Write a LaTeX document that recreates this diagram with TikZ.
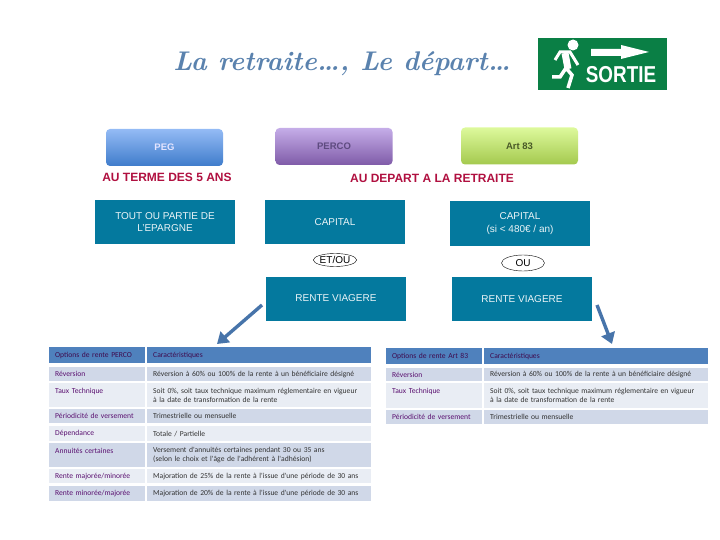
\documentclass[tikz,border=0pt]{standalone}
\usepackage{fontspec}
\setmainfont{Liberation Sans}
\newfontfamily\cellfont{Carlito}
\newfontfamily\titlefont{Latin Modern Roman}
\usetikzlibrary{arrows.meta,shapes.geometric}

\definecolor{tealbox}{HTML}{04799E}
\definecolor{crimson}{HTML}{B01040}
\definecolor{headblue}{HTML}{4F81BD}
\definecolor{rowdark}{HTML}{D0D8E8}
\definecolor{rowlight}{HTML}{E9EDF4}
\definecolor{cellpurple}{HTML}{5A1070}
\definecolor{signgreen}{HTML}{0A7F45}
\definecolor{titleblue}{HTML}{5A82AE}
\definecolor{pegtop}{HTML}{94BBF5}
\definecolor{pegbottom}{HTML}{3F7CCB}
\definecolor{percotop}{HTML}{C5ADE8}
\definecolor{percobottom}{HTML}{7F5BA8}
\definecolor{percotext}{HTML}{5E4B80}
\definecolor{arttop}{HTML}{DDF99C}
\definecolor{artbottom}{HTML}{A4C94E}
\definecolor{arttext}{HTML}{4A5A28}

\tikzset{
  topbox/.style={rounded corners=4pt, minimum width=117pt, minimum height=37pt, font=\bfseries\fontsize{9.5}{12}\selectfont},
  tealnode/.style={fill=tealbox, text=white!92!tealbox, minimum width=140pt, minimum height=44pt, align=center, inner sep=0pt, font=\fontsize{10}{12.5}\selectfont},
  headline/.style={text=crimson, font=\bfseries\fontsize{12}{14}\selectfont},
  choice/.style={draw, ellipse, minimum width=43pt, inner sep=0pt, font=\fontsize{10}{10}\selectfont},
  cell/.style={anchor=north west, inner xsep=6pt, inner ysep=0pt, align=left, font=\cellfont\fontsize{7.6}{9.3}\selectfont},
  narrowcell/.style={cell, minimum width=95pt, text width=84pt, text=cellpurple},
  widecell/.style={cell, minimum width=223pt, text width=212pt, text=black!80},
  headcell/.style={fill=headblue, text=cellpurple!70!black},
  darkrow/.style={fill=rowdark},
  lightrow/.style={fill=rowlight},
  bigarrow/.style={-{Triangle[length=11pt,width=14pt]}, line width=3.4pt, draw=headblue!90!black}
}

\begin{document}
\begin{tikzpicture}[x=1pt, y=-1pt]
  \useasboundingbox (0,0) rectangle (720,540);

  % title and exit sign
  \node[text=titleblue, font=\titlefont\itshape\bfseries\fontsize{27}{32}\selectfont] (title) at (342,64) {La retraite\dots, Le d\'epart\dots};
  \fill[signgreen] (538,38) rectangle (667,90);
  \fill[white] (573,45) circle (5.5);
  \draw[white, line width=3pt] (555,60) -- (560,52) -- (570,52) -- (578,65);
  \draw[white, line width=7pt] (565,53) -- (568,69);
  \draw[white, line width=3.5pt] (552,77) -- (560,77) -- (566,68) -- (572,75) -- (568,88);
  \fill[white] (591,49) -- (621,49) -- (621,45) -- (649,52) -- (621,59) -- (621,56) -- (591,56) -- cycle;
  \node[text=white, inner sep=0pt, font=\bfseries\fontsize{23}{24}\selectfont] (sortie) at (621,75) {\scalebox{.82}[1]{SORTIE}};

  % three plans
  \node[topbox, top color=pegtop, bottom color=pegbottom, text=white!90!blue] (peg) at (164.5,147.5) {PEG};
  \node[topbox, top color=percotop, bottom color=percobottom, text=percotext] (perco) at (334,146.5) {PERCO};
  \node[topbox, top color=arttop, bottom color=artbottom, text=arttext] (art) at (519.5,146) {Art 83};

  \node[headline] (terme) at (167,177) {AU TERME DES 5 ANS};
  \node[headline] (depart) at (432,178) {AU DEPART A LA RETRAITE};

  % teal boxes
  \node[tealnode] (tout) at (165,222) {TOUT OU PARTIE DE\\L'EPARGNE};
  \node[tealnode] (capitalA) at (335,222) {CAPITAL};
  \node[tealnode] (capitalB) at (520,223.5) {CAPITAL\\(si < 480\texteuro{} / an)};
  \node[tealnode] (renteA) at (336,298.5) {RENTE VIAGERE};
  \node[tealnode] (renteB) at (522,299) {RENTE VIAGERE};
  \node[choice, minimum height=13pt] (etou) at (335,260) {ET/OU};
  \node[choice, minimum height=16pt] (ou) at (523,263) {OU};

  % arrows down to the tables
  \coordinate (startA) at (262,305);
  \coordinate (endA) at (217,344);
  \coordinate (startB) at (597,305);
  \coordinate (endB) at (612,344);
  \draw[bigarrow] (startA) -- (endA);
  \draw[bigarrow] (startB) -- (endB);

  % PERCO table
  \node[narrowcell, headcell, minimum height=16pt] (hA) at (49,347) {Options de rente PERCO};
  \node[widecell, headcell, minimum height=16pt, minimum width=223pt] (cA) at (147,347) {Caract\'eristiques};
  \node[narrowcell, darkrow, minimum height=14pt] (rA1) at (49,367) {R\'eversion};
  \node[widecell, darkrow, minimum height=14pt] (vA1) at (147,367) {R\'eversion \`a 60\% ou 100\% de la rente \`a un b\'en\'eficiaire d\'esign\'e};
  \node[narrowcell, lightrow, minimum height=24pt] (rA2) at (49,383) {Taux Technique\\~};
  \node[widecell, lightrow, minimum height=24pt] (vA2) at (147,383) {Soit 0\%, soit taux technique maximum r\'eglementaire en vigueur\\\`a la date de transformation de la rente};
  \node[narrowcell, darkrow, minimum height=14pt] (rA3) at (49,409) {P\'eriodicit\'e de versement};
  \node[widecell, darkrow, minimum height=14pt] (vA3) at (147,409) {Trimestrielle ou mensuelle};
  \node[narrowcell, lightrow, minimum height=15pt] (rA4) at (49,426) {D\'ependance};
  \node[widecell, lightrow, minimum height=15pt] (vA4) at (147,426) {Totale / Partielle};
  \node[narrowcell, darkrow, minimum height=24pt] (rA5) at (49,443) {Annuit\'es certaines\\~};
  \node[widecell, darkrow, minimum height=24pt] (vA5) at (147,443) {Versement d'annuit\'es certaines pendant 30 ou 35 ans\\(selon le choix et l'\^age de l'adh\'erent \`a l'adh\'esion)};
  \node[narrowcell, lightrow, minimum height=14pt] (rA6) at (49,469) {Rente major\'ee/minor\'ee};
  \node[widecell, lightrow, minimum height=14pt] (vA6) at (147,469) {Majoration de 25\% de la rente \`a l'issue d'une p\'eriode de 30 ans};
  \node[narrowcell, darkrow, minimum height=15pt] (rA7) at (49,486) {Rente minor\'ee/major\'ee};
  \node[widecell, darkrow, minimum height=15pt] (vA7) at (147,486) {Majoration de 20\% de la rente \`a l'issue d'une p\'eriode de 30 ans};

  % Art 83 table
  \node[narrowcell, headcell, minimum height=16pt, minimum width=96pt] (hB) at (386,348) {Options de rente Art 83};
  \node[widecell, headcell, minimum height=16pt] (cB) at (484,348) {Caract\'eristiques};
  \node[narrowcell, darkrow, minimum height=13pt, minimum width=96pt] (rB1) at (386,368) {R\'eversion};
  \node[widecell, darkrow, minimum height=13pt] (vB1) at (484,368) {R\'eversion \`a 60\% ou 100\% de la rente \`a un b\'en\'eficiaire d\'esign\'e};
  \node[narrowcell, lightrow, minimum height=25pt, minimum width=96pt] (rB2) at (386,383) {Taux Technique\\~};
  \node[widecell, lightrow, minimum height=25pt] (vB2) at (484,383) {Soit 0\%, soit taux technique maximum r\'eglementaire en vigueur\\\`a la date de transformation de la rente};
  \node[narrowcell, darkrow, minimum height=14pt, minimum width=96pt] (rB3) at (386,410) {P\'eriodicit\'e de versement};
  \node[widecell, darkrow, minimum height=14pt] (vB3) at (484,410) {Trimestrielle ou mensuelle};
\end{tikzpicture}
\end{document}
